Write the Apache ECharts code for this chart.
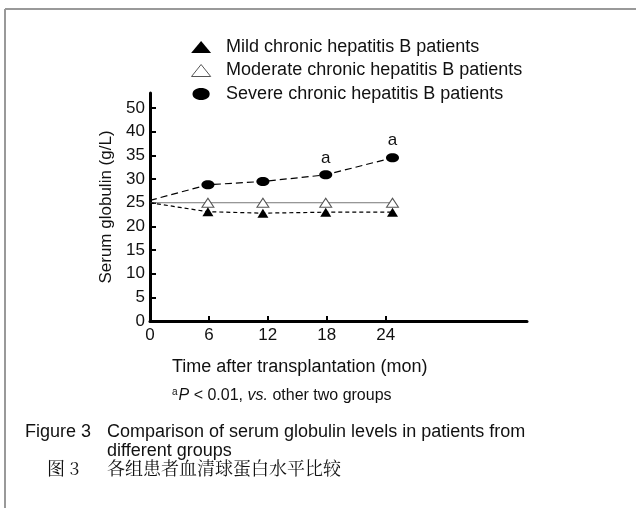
<!DOCTYPE html>
<html>
<head>
<meta charset="utf-8">
<script src="https://cdn.jsdelivr.net/npm/echarts@6/dist/echarts.min.js"></script>
<style>
html,body{margin:0;padding:0;background:#fff;}
#chart{width:636px;height:508px;}
</style>
</head>
<body>
<div id="chart"></div>
<script>
// ---- data ----
var seriesNames = ['Mild chronic hepatitis B patients', 'Moderate chronic hepatitis B patients', 'Severe chronic hepatitis B patients'];
var timePoints = [0, 5.9, 11.5, 17.9, 24.7];      // month positions of the plotted points
var mildValues = [25, 23.1, 22.8, 23.0, 23.0];
var moderateValues = [25, 25, 25, 25, 25];
var severeValues = [25.5, 28.8, 29.5, 30.9, 34.5];
var severeMarks = ['', '', '', 'a', 'a'];
var xTickLabels = [0, 6, 12, 18, 24];
var yTickValues = [0, 5, 10, 15, 20, 25, 30, 35, 40, 45];
var yTickLabels = ['0', '5', '10', '15', '20', '25', '30', '35', '40', '50'];

var FONT = '"Liberation Sans", Arial, sans-serif';
var CJK = '"Noto Serif CJK SC", "Noto Sans CJK SC", sans-serif';

function buildData(vals, marks) {
  return vals.map(function (v, i) {
    var d = { value: [timePoints[i], v] };
    if (i === 0) d.symbol = 'none';
    if (marks && marks[i]) d.label = { show: true, formatter: marks[i] };
    return d;
  });
}

var ellipsePath = 'path://M10,0 C16,0 20,3 20,7 C20,11 16,14 10,14 C4,14 0,11 0,7 C0,3 4,0 10,0 Z';
var openTri = 'path://M8,0 L16,10 L0,10 Z';

var chart = echarts.init(document.getElementById('chart'), null, { renderer: 'canvas' });
chart.setOption({
  animation: false,
  backgroundColor: '#fff',
  textStyle: { fontFamily: FONT },
  grid: { left: 150, right: 109, top: 93, bottom: 187, containLabel: false },
  legend: {
    orient: 'vertical',
    left: 186,
    top: 33,
    itemGap: 5.5,
    itemWidth: 20,
    itemHeight: 12,
    textStyle: { fontSize: 18, color: '#111', fontFamily: FONT, padding: [0, 0, 0, 10] },
    data: [
      { name: seriesNames[0], icon: 'triangle', itemStyle: { color: '#000', borderWidth: 0 } },
      { name: seriesNames[1], icon: openTri, itemStyle: { color: '#fff', borderColor: '#555', borderWidth: 1 } },
      { name: seriesNames[2], icon: ellipsePath, itemStyle: { color: '#000', borderWidth: 0 } }
    ]
  },
  xAxis: {
    type: 'value',
    min: 0,
    max: 38.4,
    interval: 6,
    splitLine: { show: false },
    axisLine: { lineStyle: { color: '#000', width: 3 } },
    axisTick: { inside: true, length: 5, lineStyle: { color: '#000', width: 2 }, customValues: [6, 12, 18, 24] },
    axisLabel: { fontSize: 17, color: '#111', margin: 6, fontFamily: FONT, customValues: xTickLabels }
  },
  yAxis: {
    type: 'value',
    min: 0,
    max: 48.2,
    interval: 5,
    name: 'Serum globulin (g/L)',
    nameLocation: 'middle',
    nameGap: 32,
    nameTextStyle: { fontSize: 17, color: '#111', fontFamily: FONT },
    splitLine: { show: false },
    axisLine: { lineStyle: { color: '#000', width: 3 } },
    axisTick: { inside: true, length: 6, lineStyle: { color: '#000', width: 2 }, customValues: yTickValues },
    axisLabel: {
      fontSize: 17, color: '#111', margin: 5, fontFamily: FONT,
      customValues: yTickValues,
      formatter: function (v) { var i = yTickValues.indexOf(v); return i >= 0 ? yTickLabels[i] : ''; }
    }
  },
  series: [
    {
      name: seriesNames[0], type: 'line', data: buildData(mildValues),
      symbol: 'triangle', symbolSize: [11, 9],
      itemStyle: { color: '#000' },
      lineStyle: { color: '#000', width: 1.2, type: [4, 3] },
      z: 3
    },
    {
      name: seriesNames[1], type: 'line', data: buildData(moderateValues),
      symbol: openTri, symbolSize: [12, 9],
      itemStyle: { color: '#fff', borderColor: '#555', borderWidth: 1 },
      lineStyle: { color: '#777', width: 1, type: 'solid' },
      z: 2
    },
    {
      name: seriesNames[2], type: 'line', data: buildData(severeValues, severeMarks),
      symbol: ellipsePath, symbolSize: [13, 9],
      itemStyle: { color: '#000' },
      lineStyle: { color: '#000', width: 1.2, type: [7, 4] },
      label: { show: false, position: 'top', distance: 4, fontSize: 17, color: '#111', fontFamily: FONT },
      z: 4
    }
  ],
  graphic: [
    { type: 'line', shape: { x1: 5, y1: 9, x2: 636, y2: 9 }, style: { stroke: '#999', lineWidth: 2 } },
    { type: 'line', shape: { x1: 5, y1: 9, x2: 5, y2: 508 }, style: { stroke: '#999', lineWidth: 2 } },
    { type: 'text', left: 172, top: 358, style: { text: 'Time after transplantation (mon)', fontSize: 18, fill: '#111', fontFamily: FONT } },
    { type: 'text', left: 172, top: 387, style: {
        text: '{sup|a}{it|P} < 0.01, {it|vs.} other two groups',
        fontSize: 16, fill: '#111', fontFamily: FONT,
        rich: {
          sup: { fontSize: 10, verticalAlign: 'top', padding: [0, 1, 8, 0], fontFamily: FONT, fill: '#111' },
          it: { fontStyle: 'italic', fontSize: 16, fontFamily: FONT, fill: '#111' }
        }
    } },
    { type: 'text', left: 25, top: 423, style: { text: 'Figure 3', fontSize: 18, fill: '#111', fontFamily: FONT } },
    { type: 'text', left: 107, top: 423, style: { text: 'Comparison of serum globulin levels in patients from', fontSize: 18, fill: '#111', fontFamily: FONT } },
    { type: 'text', left: 107, top: 442, style: { text: 'different groups', fontSize: 18, fill: '#111', fontFamily: FONT } },
    { type: 'text', left: 47, top: 459, style: { text: '图 3', fontSize: 18, fill: '#111', fontFamily: CJK } },
    { type: 'text', left: 107, top: 459, style: { text: '各组患者血清球蛋白水平比较', fontSize: 18, fill: '#111', fontFamily: CJK } }
  ]
});
</script>
</body>
</html>
